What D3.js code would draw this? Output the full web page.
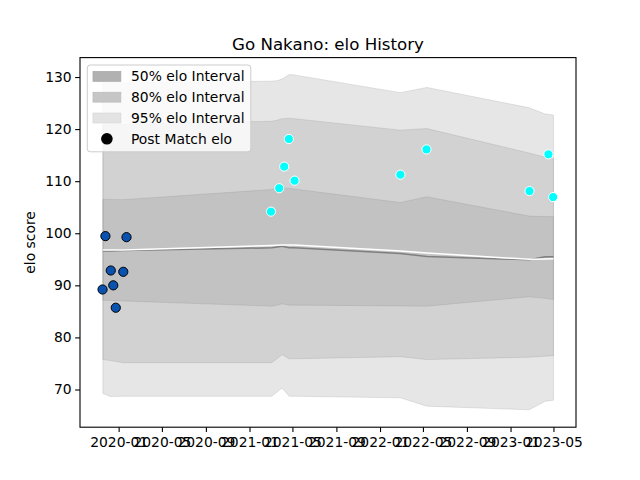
<!DOCTYPE html>
<html>
<head>
<meta charset="utf-8">
<script src="https://cdn.jsdelivr.net/npm/d3@7"></script>
<style>
  body { margin: 0; background: #fff; }
  svg { font-family: "DejaVu Sans", sans-serif; }
</style>
</head>
<body>
<svg id="chart" width="640" height="480"></svg>
<script>
// ---- data ----
const bandDates = ["2019-11-18","2019-12-09","2020-01-14","2021-03-04","2021-03-19","2021-04-02","2021-04-22","2021-05-06","2022-02-27","2022-05-12","2023-02-22","2023-04-08","2023-05-01"];
const upper95 = [128.9, 128.9, 128.9, 129.2, 129.3, 129.6, 130.5, 130.4, 127.0, 128.0, 124.1, 122.9, 122.7];
const upper80 = [120.8, 120.85, 120.9, 121.5, 121.7, 122.0, 122.1, 122.0, 119.8, 120.1, 115.4, 114.6, 114.3];
const upper50 = [106.5, 106.5, 106.45, 108.4, 108.6, 108.75, 108.6, 108.5, 105.9, 107.0, 103.3, 103.2, 103.2];
const meanElo = [96.6, 96.6, 96.7, 97.2, 97.35, 97.5, 97.2, 97.2, 96.1, 95.55, 94.9, 95.5, 95.5];
const expectedElo = [96.8, 96.8, 96.8, 97.65, 97.7, 97.75, 97.75, 97.75, 96.6, 96.2, 95.0, 95.05, 95.1];
const lower50 = [87.15, 87.1, 87.0, 86.0, 86.2, 86.45, 86.2, 86.2, 86.05, 86.0, 87.8, 87.5, 87.3];
const lower80 = [75.75, 75.55, 75.15, 75.15, 75.9, 76.7, 75.9, 75.9, 76.3, 75.75, 76.2, 76.4, 76.5];
const lower95 = [69.25, 68.65, 68.7, 68.7, 69.5, 70.3, 68.7, 68.7, 68.4, 66.8, 66.1, 67.75, 67.95];

const earlyDates = ["2019-11-17","2019-11-25","2019-12-10","2019-12-17","2019-12-24","2020-01-14","2020-01-23"];
const earlyElo = [89.2, 99.45, 92.85, 90.0, 85.7, 92.6, 99.25];
const lateDates = ["2021-03-02","2021-03-25","2021-04-08","2021-04-21","2021-05-07","2022-02-27","2022-05-11","2023-02-23","2023-04-17","2023-04-30"];
const lateElo = [104.15, 108.65, 112.8, 118.1, 110.1, 111.25, 116.1, 108.1, 115.15, 106.95];

const yTicks = [70, 80, 90, 100, 110, 120, 130];
const legendLabels = ["50% elo Interval", "80% elo Interval", "95% elo Interval", "Post Match elo"];
const titleText = "Go Nakano: elo History";
const yLabelText = "elo score";

// ---- layout ----
const W = 640, H = 480;
const m = { left: 80, right: 576, top: 57.6, bottom: 427.2 };
const parse = d3.utcParse("%Y-%m-%d");
const svg = d3.select("#chart");

const allDates = bandDates.concat(earlyDates, lateDates).map(parse);
const ext = d3.extent(allDates);
const pad = (ext[1] - ext[0]) * 0.05;
const x = d3.scaleUtc().domain([new Date(+ext[0] - pad), new Date(+ext[1] + pad)]).range([m.left, m.right]);
const y = d3.scaleLinear().domain([62.76, 133.73]).range([m.bottom, m.top]);

const bd = bandDates.map(parse);
function band(lo, hi) {
  return d3.area().x((d, i) => x(bd[i])).y0((d, i) => y(lo[i])).y1((d, i) => y(hi[i]))(bd);
}

const g = svg.append("g");
[[lower95, upper95], [lower80, upper80], [lower50, upper50]].forEach(([lo, hi]) => {
  g.append("path").attr("d", band(lo, hi))
    .attr("fill", "#808080").attr("fill-opacity", 0.2)
    .attr("stroke", "#808080").attr("stroke-opacity", 0.2).attr("stroke-width", 1);
});

const line = arr => d3.line().x((d, i) => x(bd[i])).y((d, i) => y(arr[i]))(bd);
g.append("path").attr("d", line(meanElo)).attr("fill", "none").attr("stroke", "#7f7f7f").attr("stroke-width", 1.5);
g.append("path").attr("d", line(expectedElo)).attr("fill", "none").attr("stroke", "#ffffff").attr("stroke-width", 1.5);

g.selectAll(".early").data(earlyDates).enter().append("circle")
  .attr("cx", d => x(parse(d))).attr("cy", (d, i) => y(earlyElo[i])).attr("r", 4.6)
  .attr("fill", "#0a52b0").attr("stroke", "#000").attr("stroke-width", 1);
g.selectAll(".late").data(lateDates).enter().append("circle")
  .attr("cx", d => x(parse(d))).attr("cy", (d, i) => y(lateElo[i])).attr("r", 4.6)
  .attr("fill", "#00ffff").attr("stroke", "#fff").attr("stroke-width", 1);

// axes frame
svg.append("rect").attr("x", m.left).attr("y", m.top).attr("width", m.right - m.left).attr("height", m.bottom - m.top)
  .attr("fill", "none").attr("stroke", "#000").attr("stroke-width", 1.1);

// x axis
const xAxis = d3.axisBottom(x).ticks(d3.utcMonth.every(4)).tickFormat(d3.utcFormat("%Y-%m")).tickSize(4.86).tickPadding(5.5);
const gx = svg.append("g").attr("transform", `translate(0,${m.bottom})`).call(xAxis);
gx.select(".domain").remove();
gx.selectAll("line").attr("stroke", "#000").attr("stroke-width", 1.1);
gx.selectAll("text").attr("fill", "#000").style("font-size", "13.89px").style("font-family", "DejaVu Sans");

// y axis
const yAxis = d3.axisLeft(y).tickValues(yTicks).tickSize(4.86).tickPadding(3.5);
const gy = svg.append("g").attr("transform", `translate(${m.left},0)`).call(yAxis);
gy.select(".domain").remove();
gy.selectAll("line").attr("stroke", "#000").attr("stroke-width", 1.1);
gy.selectAll("text").attr("fill", "#000").style("font-size", "13.89px").style("font-family", "DejaVu Sans");

// title and label
svg.append("text").attr("x", (m.left + m.right) / 2).attr("y", 49.5).attr("text-anchor", "middle")
  .style("font-size", "16.67px").text(titleText);
svg.append("text").attr("transform", `translate(34.5,${(m.top + m.bottom) / 2}) rotate(-90)`)
  .attr("text-anchor", "middle").style("font-size", "13.89px").text(yLabelText);

// legend
const lg = svg.append("g");
lg.append("rect").attr("x", 87.3).attr("y", 65).attr("width", 163.5).attr("height", 86.8).attr("rx", 3)
  .attr("fill", "#fff").attr("fill-opacity", 0.8).attr("stroke", "#cccccc").attr("stroke-width", 1);
const patchColors = ["#b1b1b1", "#c6c6c6", "#e3e3e3"];
const rowY = [76.4, 97.2, 118.0, 138.8];
legendLabels.forEach((lab, i) => {
  if (i < 3) {
    lg.append("rect").attr("x", 93).attr("y", rowY[i] - 4.9).attr("width", 27.8).attr("height", 9.8)
      .attr("fill", patchColors[i]).attr("stroke", d3.color(patchColors[i]).darker(0.15)).attr("stroke-width", 0.8);
  } else {
    lg.append("circle").attr("cx", 106.9).attr("cy", rowY[i]).attr("r", 5.8).attr("fill", "#000");
  }
  lg.append("text").attr("x", 131).attr("y", rowY[i] + 5).style("font-size", "13.89px").text(lab);
});
</script>
</body>
</html>
